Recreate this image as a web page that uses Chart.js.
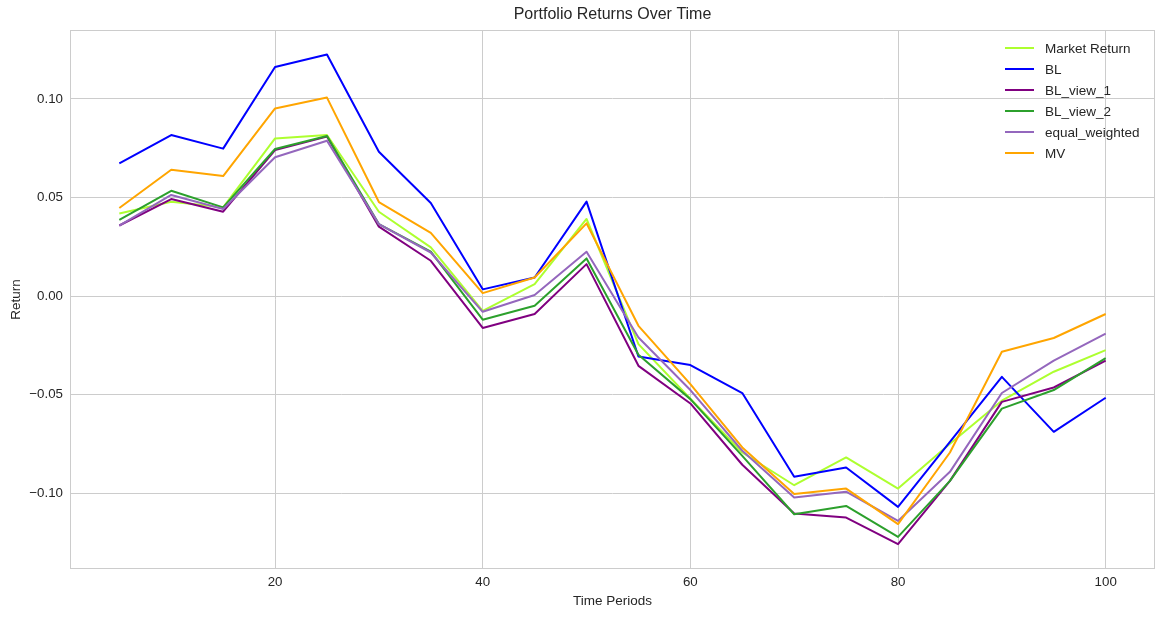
<!DOCTYPE html>
<html>
<head>
<meta charset="utf-8">
<script src="https://cdn.jsdelivr.net/npm/chart.js@4.4.1/dist/chart.umd.min.js"></script>
<style>
  html, body { margin: 0; padding: 0; background: #ffffff; }
  canvas { display: block; }
</style>
</head>
<body>
<canvas id="returns" width="1164" height="617"></canvas>
<script>
// data
var periods = [5, 10, 15, 20, 25, 30, 35, 40, 45, 50, 55, 60, 65, 70, 75, 80, 85, 90, 95, 100];
var marketReturn = [0.0419, 0.0479, 0.0450, 0.0800, 0.0817, 0.0428, 0.0247, -0.0075, 0.0061, 0.0391, -0.0244, -0.0521, -0.0794, -0.0960, -0.0819, -0.0977, -0.0750, -0.0531, -0.0384, -0.0274];
var bl = [0.0673, 0.0817, 0.0748, 0.1162, 0.1226, 0.0732, 0.0472, 0.0034, 0.0094, 0.0479, -0.0307, -0.0350, -0.0492, -0.0917, -0.0870, -0.1070, -0.0740, -0.0410, -0.0689, -0.0516];
var blView1 = [0.0358, 0.0492, 0.0428, 0.0741, 0.0809, 0.0352, 0.0179, -0.0162, -0.0091, 0.0162, -0.0354, -0.0545, -0.0856, -0.1103, -0.1124, -0.1259, -0.0938, -0.0537, -0.0464, -0.0328];
var blView2 = [0.0387, 0.0534, 0.0450, 0.0746, 0.0812, 0.0365, 0.0225, -0.0120, -0.0049, 0.0191, -0.0298, -0.0523, -0.0811, -0.1107, -0.1065, -0.1222, -0.0938, -0.0571, -0.0477, -0.0315];
var equalWeighted = [0.0357, 0.0513, 0.0442, 0.0704, 0.0788, 0.0365, 0.0221, -0.0080, 0.0005, 0.0225, -0.0210, -0.0477, -0.0785, -0.1022, -0.0993, -0.1141, -0.0892, -0.0492, -0.0328, -0.0191];
var mv = [0.0447, 0.0641, 0.0609, 0.0952, 0.1007, 0.0477, 0.0321, 0.0015, 0.0094, 0.0369, -0.0151, -0.0447, -0.0768, -0.1005, -0.0977, -0.1157, -0.0794, -0.0283, -0.0213, -0.0091];

var xTicks = [20, 40, 60, 80, 100];
var yTicks = [-0.10, -0.05, 0.00, 0.05, 0.10];
var yTickLabels = ["\u22120.10", "\u22120.05", "0.00", "0.05", "0.10"];

var FONT = "'Liberation Sans', Arial, sans-serif";
var TEXT = "#262626";
var GRID = "#cccccc";

function points(values) {
    return periods.map(function(p, i) { return { x: p, y: values[i] }; });
}

function series(label, values, color, order) {
    return {
        label: label,
        data: points(values),
        borderColor: color,
        backgroundColor: color,
        borderWidth: 2,
        borderJoinStyle: "round",
        pointRadius: 0,
        pointHoverRadius: 0,
        tension: 0,
        fill: false,
        order: order
    };
}

// title, axis titles, frame and the in-plot legend
var decorations = {
    id: "decorations",
    afterDraw: function(chart) {
        var ctx = chart.ctx;
        var area = chart.chartArea;
        var cx = (area.left + area.right) / 2;
        ctx.save();

        ctx.strokeStyle = GRID;
        ctx.lineWidth = 1;
        ctx.strokeRect(area.left + 0.5, area.top + 0.5, area.right - area.left - 1, area.bottom - area.top - 1);

        ctx.fillStyle = TEXT;
        ctx.textAlign = "center";
        ctx.textBaseline = "middle";
        ctx.font = "16px " + FONT;
        ctx.fillText("Portfolio Returns Over Time", cx, 15);

        ctx.font = "13.5px " + FONT;
        ctx.fillText("Time Periods", cx, 601);

        ctx.save();
        ctx.translate(16, (area.top + area.bottom) / 2);
        ctx.rotate(-Math.PI / 2);
        ctx.fillText("Return", 0, 0);
        ctx.restore();

        ctx.textAlign = "left";
        chart.data.datasets.forEach(function(ds, i) {
            var y = 48 + i * 21;
            ctx.strokeStyle = ds.borderColor;
            ctx.lineWidth = 2;
            ctx.beginPath();
            ctx.moveTo(1005, y);
            ctx.lineTo(1034, y);
            ctx.stroke();
            ctx.fillStyle = TEXT;
            ctx.fillText(ds.label, 1045, y + 1);
        });
        ctx.restore();
    }
};

document.addEventListener("DOMContentLoaded", function() {
    var ctx = document.getElementById("returns").getContext("2d");

    var data = {
        datasets: [
            series("Market Return", marketReturn, "#adff2f", 5),
            series("BL", bl, "#0000ff", 4),
            series("BL_view_1", blView1, "#800080", 3),
            series("BL_view_2", blView2, "#2ca02c", 2),
            series("equal_weighted", equalWeighted, "#9467bd", 1),
            series("MV", mv, "#ffa500", 0)
        ]
    };

    var options = {
        responsive: false,
        devicePixelRatio: 1,
        animation: false,
        layout: { padding: { top: 30, right: 9, bottom: 0, left: 0 } },
        plugins: {
            legend: { display: false },
            title: { display: false },
            tooltip: { enabled: false }
        },
        scales: {
            x: {
                type: "linear",
                min: 0.25,
                max: 104.75,
                afterBuildTicks: function(scale) {
                    scale.ticks = xTicks.map(function(v) { return { value: v }; });
                },
                afterFit: function(scale) { scale.height = 48; },
                grid: { color: GRID, lineWidth: 1, drawTicks: false },
                border: { display: false },
                ticks: {
                    color: TEXT,
                    padding: 5,
                    maxRotation: 0,
                    font: { family: FONT, size: 13.3 },
                    callback: function(v) { return String(v); }
                }
            },
            y: {
                type: "linear",
                min: -0.1385,
                max: 0.1350,
                afterBuildTicks: function(scale) {
                    scale.ticks = yTicks.map(function(v) { return { value: v }; });
                },
                afterFit: function(scale) { scale.width = 70; },
                grid: { color: GRID, lineWidth: 1, drawTicks: false },
                border: { display: false },
                ticks: {
                    color: TEXT,
                    padding: 7,
                    font: { family: FONT, size: 13.3 },
                    callback: function(v, i) { return yTickLabels[i]; }
                }
            }
        }
    };

    var returnsChart = new Chart(ctx, {
        type: "line",
        data: data,
        options: options,
        plugins: [decorations]
    });
});
</script>
</body>
</html>
